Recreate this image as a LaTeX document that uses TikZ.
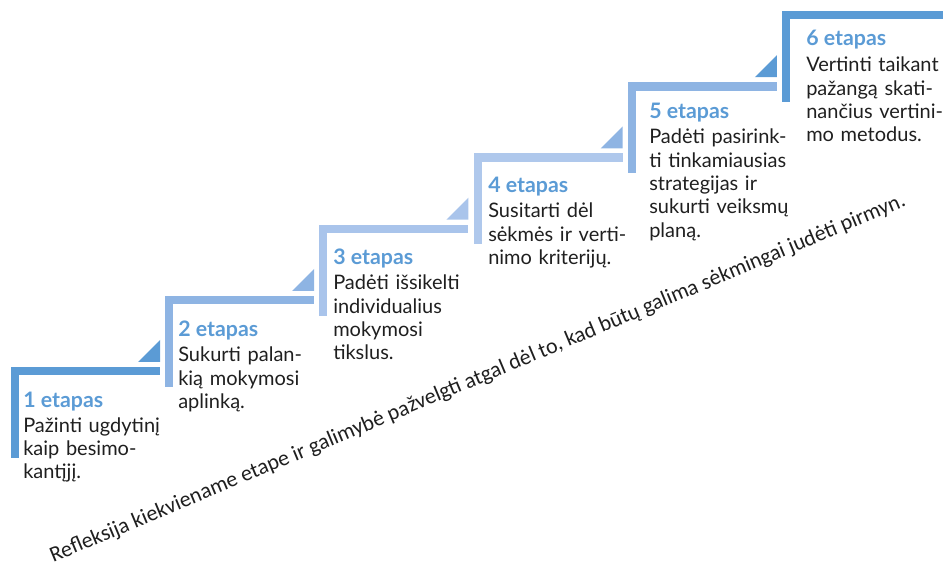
\documentclass[tikz,border=0pt]{standalone}
\usepackage{fontspec}
\setmainfont{Lato}
\newfontfamily\reflfont{Carlito}
\usepackage{tikz}

\definecolor{stepdark}{HTML}{5B9BD5}
\definecolor{steplight}{HTML}{8EB4E3}
\definecolor{steppale}{HTML}{A9C4EB}
\definecolor{steppaler}{HTML}{AFC8EC}

\tikzset{
  stephead/.style={anchor=base west, inner sep=0pt, text=stepdark,
    font=\fontsize{16}{18}\selectfont\bfseries},
  steptext/.style={anchor=base west, align=left, text width=125pt, inner sep=0pt, text=black!88,
    font=\fontsize{15}{17.5}\selectfont},
}

\begin{document}
\begin{tikzpicture}[x=0.75pt,y=-0.75pt]
\useasboundingbox (0,0) rectangle (943,570);

% stairs: bar colour / triangle colour
\foreach \i/\barcol/\tricol in {0/stepdark/stepdark,1/steplight/steplight,2/steppale/steppale,3/steppaler/steplight,4/steplight/stepdark,5/stepdark/none}{
 \begin{scope}[shift={(11+154.2*\i,367-71.2*\i)}]
  \fill[\barcol] (0,0) rectangle (8,91);
  \ifnum\i<5
   \fill[\barcol] (0,0) rectangle (149,8.5);
   \fill[\tricol] (149,-5) -- (127,-5) -- (149,-27) -- cycle;
  \else
   \fill[\barcol] (0,0) rectangle (161,8.5);
  \fi
 \end{scope}
}

 \node[stephead] (h1) at (23,407) {1 etapas};
 \node[steptext] (s1) at (23,432) {Pažinti ugdytinį\\kaip besimo-\\kantįjį.};
 \node[stephead] (h2) at (178,337) {2 etapas};
 \node[steptext] (s2) at (178,362) {Sukurti palan-\\kią mokymosi\\aplinką.};
 \node[stephead] (h3) at (333,265) {3 etapas};
 \node[steptext] (s3) at (333,290) {Padėti išsikelti\\individualius\\mokymosi\\tikslus.};
 \node[stephead] (h4) at (488,193) {4 etapas};
 \node[steptext] (s4) at (488,218) {Susitarti dėl\\sėkmės ir verti-\\nimo kriterijų.};
 \node[stephead] (h5) at (649,119) {5 etapas};
 \node[steptext] (s5) at (649,144) {Padėti pasirink-\\ti tinkamiausias\\strategijas ir\\sukurti veiksmų\\planą.};
 \node[stephead] (h6) at (806,46) {6 etapas};
 \node[steptext] (s6) at (806,72) {Vertinti taikant\\pažangą skati-\\nančius vertini-\\mo metodus.};

 \node[anchor=base, inner sep=0pt, rotate=22.7, text=black!88, font=\reflfont\fontsize{16.5}{20}\selectfont] (refl) at (480,384)
  {Refleksija kiekviename etape ir galimybė pažvelgti atgal dėl to, kad būtų galima sėkmingai judėti pirmyn.};
\end{tikzpicture}
\end{document}
